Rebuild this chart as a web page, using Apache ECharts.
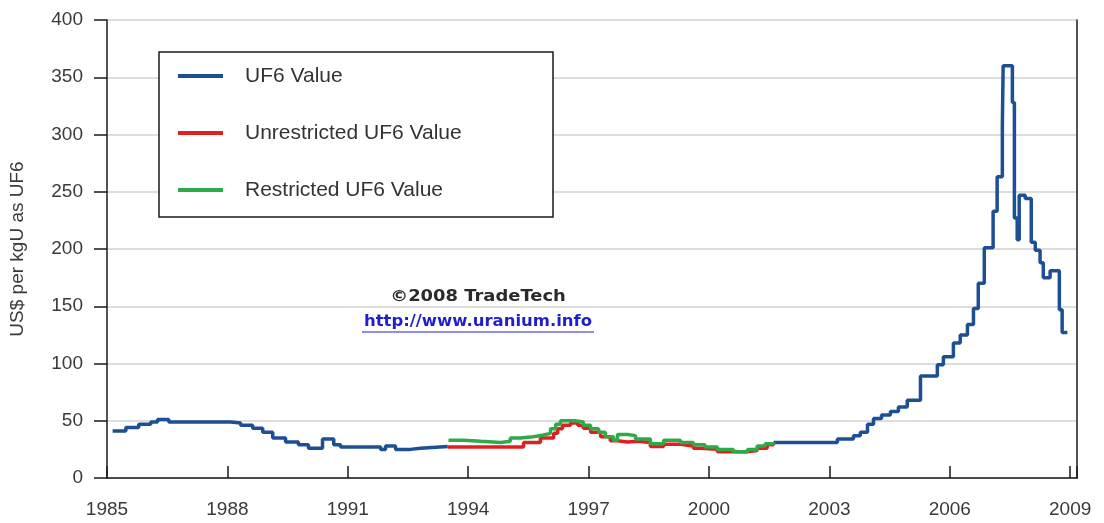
<!DOCTYPE html>
<html>
<head>
<meta charset="utf-8">
<title>UF6 Value</title>
<script src="https://cdn.jsdelivr.net/npm/echarts@6/dist/echarts.min.js"></script>
<style>
  html, body { margin: 0; padding: 0; background: #fff; }
  .chart { width: 1104px; height: 523px; }
</style>
</head>
<body>
<div class="chart"></div>
<script>
// step start years and values
var uf6Years = [1985.14, 1985.47, 1985.79, 1986.09, 1986.26, 1986.54, 1988.08, 1988.33, 1988.63, 1988.88,
  1989.13, 1989.45, 1989.77, 1990.02, 1990.37, 1990.65, 1990.82, 1991.82, 1991.94, 1992.19,
  1992.56, 1992.81, 1993.49, 1993.5,
  2001.61, 2003.2, 2003.6, 2003.77, 2003.95, 2004.1, 2004.3, 2004.52, 2004.72, 2004.94,
  2005.27, 2005.69, 2005.84, 2006.09, 2006.26, 2006.44, 2006.59, 2006.71, 2006.86, 2007.08,
  2007.18, 2007.31, 2007.33, 2007.56, 2007.61, 2007.68, 2007.73, 2007.88, 2008.03, 2008.13,
  2008.25, 2008.33, 2008.5, 2008.73, 2008.8, 2008.93];
var uf6Values = [41, 44, 47, 49, 51, 49, 48, 46, 43.5, 40,
  35, 31.5, 29, 26, 34, 29, 27, 25, 28, 25,
  26, 27.5, 27, null,
  31, 34, 37, 40, 47, 52, 55, 58, 62, 68,
  89, 99, 106, 118, 125, 134, 148, 170, 201, 233,
  263, 308, 360, 328, 227, 208, 247, 244, 206, 199,
  188, 175, 181, 147, 127, 127];

var unrestrictedYears = [1993.49, 1995.38, 1995.8, 1996.13, 1996.23, 1996.35, 1996.55, 1996.73, 1996.87, 1997.05,
  1997.3, 1997.54, 1997.72, 1997.97, 1998.22, 1998.54, 1998.87, 1999.29, 1999.61, 1999.79,
  2000.21, 2000.96, 2001.2, 2001.45, 2001.61];
var unrestrictedValues = [27, 31, 35, 39, 43, 46, 48, 46, 43.5, 40,
  36, 32.5, 31.5, 32, 31, 27.5, 29.5, 28, 26, 25,
  23, 24, 26, 29, 31];

var restrictedYears = [1993.51, 1993.89, 1994.31, 1994.81, 1995.05, 1995.3, 1995.62, 1995.88, 1996.05, 1996.18,
  1996.3, 1996.67, 1996.87, 1997.05, 1997.25, 1997.42, 1997.62, 1997.72, 1997.97, 1998.17,
  1998.54, 1998.87, 1999.29, 1999.61, 1999.9, 2000.21, 2000.61, 2000.96, 2001.2, 2001.4, 2001.61];
var restrictedValues = [33, 32, 31, 32, 35, 36, 37.5, 39, 43, 47,
  50, 49, 46, 43, 40, 36, 33, 38, 37, 34,
  30, 33, 31, 29, 27, 25, 23, 25, 28, 30, 31];

var yearTicks = [1985, 1988, 1991, 1994, 1997, 2000, 2003, 2006, 2009];
var valueTicks = [0, 50, 100, 150, 200, 250, 300, 350, 400];

function pairs(xs, ys) {
  var out = [];
  for (var i = 0; i < xs.length; i++) {
    out.push([xs[i], ys[i]]);
  }
  return out;
}

(function () {
  var font = "Liberation Sans";
  var myChart = echarts.init(document.querySelector(".chart"));
  var option = {
    animation: false,
    backgroundColor: "#fff",
    grid: { left: 106, right: 27, top: 20, bottom: 45 },
    xAxis: {
      type: "value",
      min: yearTicks[0],
      max: 2009.17,
      interval: 3,
      axisLine: { lineStyle: { color: "#1a1a1a", width: 1.5 } },
      axisTick: { show: true, inside: true, length: 12, lineStyle: { color: "#1a1a1a", width: 1.5 } },
      axisLabel: {
        color: "#3a3a3a",
        fontFamily: font,
        fontSize: 19,
        margin: 22,
        formatter: function (v) {
          return yearTicks.indexOf(Math.round(v * 100) / 100) >= 0 ? String(v) : "";
        },
      },
      splitLine: { show: false },
    },
    yAxis: [
      {
        type: "value",
        min: valueTicks[0],
        max: valueTicks[valueTicks.length - 1],
        interval: 50,
        name: "US$ per kgU as UF6",
        nameLocation: "middle",
        nameGap: 80,
        nameTextStyle: { color: "#3a3a3a", fontFamily: font, fontSize: 19 },
        axisLine: { show: true, lineStyle: { color: "#1a1a1a", width: 1.5 } },
        axisTick: { show: true, length: 13, lineStyle: { color: "#1a1a1a", width: 1.5 } },
        axisLabel: { color: "#3a3a3a", fontFamily: font, fontSize: 19, margin: 24 },
        splitLine: { lineStyle: { color: "#d2d2d2", width: 1.5 } },
      },
      {
        type: "value",
        position: "right",
        min: 0,
        max: 400,
        interval: 50,
        axisLine: { show: true, lineStyle: { color: "#1a1a1a", width: 1.5 } },
        axisTick: { show: false },
        axisLabel: { show: false },
        splitLine: { show: false },
      },
    ],
    legend: {
      orient: "vertical",
      left: 178,
      top: 65,
      padding: 0,
      z: 10,
      icon: "rect",
      itemWidth: 45,
      itemHeight: 4,
      itemGap: 35,
      textStyle: { color: "#333", fontFamily: font, fontSize: 21, lineHeight: 22, padding: [0, 0, 0, 17] },
      data: ["UF6 Value", "Unrestricted UF6 Value", "Restricted UF6 Value"],
    },
    graphic: [
      {
        type: "rect",
        z: 5,
        shape: { x: 159, y: 52, width: 394, height: 165 },
        style: { fill: "#fff", stroke: "#1a1a1a", lineWidth: 1.5 },
      },
      {
        type: "text",
        z: 5,
        x: 478,
        y: 297,
        scaleX: 1.12,
        style: {
          text: "©2008 TradeTech",
          fill: "#2a2a2a",
          font: "bold 16px 'DejaVu Sans'",
          align: "center",
          verticalAlign: "middle",
        },
      },
      {
        type: "text",
        z: 5,
        x: 478,
        y: 322,
        scaleX: 1.03,
        style: {
          text: "http://www.uranium.info",
          fill: "#1f1fd0",
          font: "bold 16px 'DejaVu Sans'",
          align: "center",
          verticalAlign: "middle",
        },
      },
      {
        type: "line",
        z: 5,
        shape: { x1: 362, y1: 332, x2: 594, y2: 332 },
        style: { stroke: "#1f1fd0", lineWidth: 1.2 },
      },
    ],
    series: [
      {
        name: "UF6 Value",
        type: "line",
        step: "end",
        symbol: "none",
        connectNulls: false,
        lineStyle: { color: "#1c4f94", width: 3.5 },
        itemStyle: { color: "#1c4f94" },
        data: pairs(uf6Years, uf6Values),
      },
      {
        name: "Unrestricted UF6 Value",
        type: "line",
        step: "end",
        symbol: "none",
        lineStyle: { color: "#e02020", width: 3.5 },
        itemStyle: { color: "#e02020" },
        data: pairs(unrestrictedYears, unrestrictedValues),
      },
      {
        name: "Restricted UF6 Value",
        type: "line",
        step: "end",
        symbol: "none",
        lineStyle: { color: "#2eaa48", width: 3.5 },
        itemStyle: { color: "#2eaa48" },
        data: pairs(restrictedYears, restrictedValues),
      },
    ],
  };
  myChart.setOption(option);
})();
</script>
</body>
</html>
